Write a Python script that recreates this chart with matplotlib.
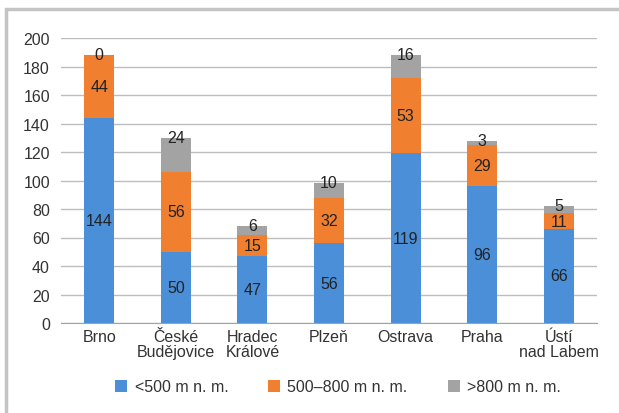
import matplotlib.pyplot as plt
import numpy as np
from matplotlib.patches import Rectangle

plt.rcParams['font.family'] = ['Liberation Sans', 'DejaVu Sans']

cities = ['Brno', 'České\nBudějovice', 'Hradec\nKrálové', 'Plzeň', 'Ostrava', 'Praha', 'Ústí\nnad Labem']
low = [144, 50, 47, 56, 119, 96, 66]
mid = [44, 56, 15, 32, 53, 29, 11]
high = [0, 24, 6, 10, 16, 3, 5]
series_names = ['<500 m n. m.', '500–800 m n. m.', '>800 m n. m.']
colors = ['#4a8fd8', '#f07f2f', '#a3a3a3']

fig = plt.figure(figsize=(6.19, 4.14), dpi=100)
# outer frame
fig.patches.append(Rectangle((6 / 619, -0.1), 1.2, (414 - 9.5) / 414 + 0.1,
                             transform=fig.transFigure, fill=False,
                             edgecolor='#c4c4c4', linewidth=2.5))

ax = fig.add_axes([61 / 619, 1 - 324 / 414, (597 - 61) / 619, (324 - 39) / 414])
x = np.arange(len(cities))
w = 0.39
b1 = ax.bar(x, low, w, color=colors[0], label=series_names[0], zorder=3)
b2 = ax.bar(x, mid, w, bottom=low, color=colors[1], label=series_names[1], zorder=3)
bottom2 = np.array(low) + np.array(mid)
b3 = ax.bar(x, high, w, bottom=bottom2, color=colors[2], label=series_names[2], zorder=3)

fs = 11.5
ax.bar_label(b1, label_type='center', fontsize=fs, color='#222222')
ax.bar_label(b2, label_type='center', fontsize=fs, color='#222222')
ax.bar_label(b3, labels=[str(v) for v in high], label_type='edge', padding=-5,
             fontsize=fs, color='#222222')

ax.set_ylim(0, 200)
ax.set_xlim(-0.5, len(cities) - 0.5)
ax.set_yticks(range(0, 201, 20))
ax.yaxis.grid(True, color='#bdbdbd', linewidth=1, zorder=0)
ax.set_axisbelow(True)
for s in ['top', 'right', 'left']:
    ax.spines[s].set_visible(False)
ax.spines['bottom'].set_color('#9aa4b0')
ax.tick_params(axis='y', length=0, pad=8, labelsize=fs, labelcolor='#333333')
ax.tick_params(axis='x', length=0, pad=4, labelsize=fs, labelcolor='#333333')
ax.set_xticks(x)
ax.set_xticklabels(cities, linespacing=1.05)

fig.legend(loc='center', bbox_to_anchor=(0.546, 0.063), ncol=3, frameon=False,
           fontsize=fs, handlelength=0.75, handleheight=0.75, handletextpad=0.45,
           columnspacing=2.5, labelcolor='#333333')

plt.savefig('out.png', dpi=100)
